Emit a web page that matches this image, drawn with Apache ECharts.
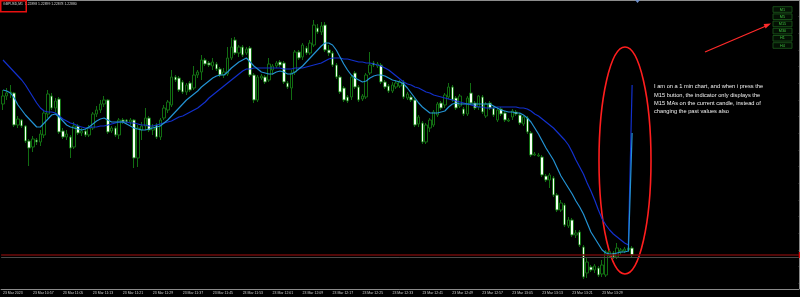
<!DOCTYPE html>
<html><head><meta charset="utf-8">
<script src="https://cdn.jsdelivr.net/npm/echarts@6/dist/echarts.min.js"></script>
<style>html,body{margin:0;padding:0;background:#000;overflow:hidden}#c{width:800px;height:297px}</style>
</head><body><div id="c"></div>
<script>
// ---- time axis ----
const startTime = '10:49';
const totalSlots = 213;
const tickTimes = ['10:49','10:57','11:05','11:13','11:21','11:29','11:37','11:45','11:53','12:01','12:09','12:17','12:25','12:33','12:41','12:49','12:57','13:05','13:13','13:21','13:29'];
const dateLabel = '23 Mar 2023';
const dayPrefix = '23 Mar ';

// ---- OHLC (GBPUSD M1) ----
const open = [
1.23031,1.23039,1.23042,1.23042,1.23010,1.23015,1.23009,1.22994,1.22988,1.22995,
1.22993,1.23000,1.23021,1.23039,1.23027,1.23036,1.23004,1.22998,1.22998,1.22988,
1.23009,1.23002,1.23004,1.23000,1.23007,1.23021,1.23025,1.23031,1.23035,1.23004,
1.23007,1.23000,1.23015,1.23015,1.23013,1.23015,1.22977,1.23005,1.23009,1.23017,
1.23005,1.23010,1.22998,1.23017,1.23025,1.23030,1.23058,1.23057,1.23053,1.23043,
1.23052,1.23047,1.23060,1.23063,1.23075,1.23072,1.23069,1.23071,1.23066,1.23060,
1.23061,1.23077,1.23095,1.23082,1.23088,1.23082,1.23087,1.23060,1.23035,1.23057,
1.23058,1.23055,1.23065,1.23069,1.23073,1.23072,1.23052,1.23047,1.23063,1.23083,
1.23078,1.23087,1.23082,1.23090,1.23107,1.23103,1.23110,1.23085,1.23082,1.23070,
1.23058,1.23047,1.23038,1.23038,1.23062,1.23048,1.23036,1.23038,1.23062,1.23072,
1.23069,1.23070,1.23053,1.23049,1.23044,1.23048,1.23049,1.23053,1.23037,1.23038,
1.23035,1.23011,1.23012,1.22993,1.23007,1.23010,1.23020,1.23032,1.23030,1.23038,
1.23048,1.23037,1.23029,1.23026,1.23021,1.23042,1.23032,1.23028,1.23038,1.23019,
1.23032,1.23027,1.23015,1.23026,1.23022,1.23014,1.23018,1.23023,1.23020,1.23011,
1.23017,1.23002,1.22980,1.22979,1.22978,1.22959,1.22955,1.22957,1.22940,1.22925,
1.22930,1.22909,1.22915,1.22900,1.22903,1.22888,1.22862,1.22868,1.22865,1.22867,
1.22861,1.22860,1.22879,1.22882,1.22878,1.22883,1.22884,1.22885,1.22887];
const close = [
1.23039,1.23042,1.23043,1.23010,1.23016,1.23009,1.22994,1.22987,1.22996,1.22993,
1.23001,1.23022,1.23041,1.23027,1.23034,1.23003,1.22998,1.23001,1.22987,1.23009,
1.23002,1.23004,1.23000,1.23007,1.23021,1.23025,1.23031,1.23035,1.23003,1.23007,
1.23000,1.23015,1.23013,1.23013,1.23015,1.22977,1.23007,1.23009,1.23017,1.23005,
1.23008,1.22998,1.23015,1.23027,1.23033,1.23058,1.23055,1.23045,1.23043,1.23050,
1.23045,1.23060,1.23063,1.23075,1.23071,1.23070,1.23073,1.23066,1.23060,1.23063,
1.23077,1.23088,1.23082,1.23088,1.23080,1.23086,1.23060,1.23035,1.23058,1.23059,
1.23053,1.23071,1.23069,1.23072,1.23070,1.23053,1.23048,1.23062,1.23083,1.23077,
1.23090,1.23082,1.23092,1.23110,1.23103,1.23109,1.23085,1.23082,1.23070,1.23058,
1.23043,1.23035,1.23034,1.23058,1.23048,1.23035,1.23039,1.23060,1.23070,1.23070,
1.23071,1.23053,1.23048,1.23044,1.23050,1.23052,1.23053,1.23038,1.23041,1.23035,
1.23010,1.23018,1.22993,1.23010,1.23015,1.23023,1.23031,1.23027,1.23040,1.23048,
1.23035,1.23027,1.23039,1.23021,1.23037,1.23032,1.23027,1.23039,1.23023,1.23031,
1.23027,1.23020,1.23025,1.23021,1.23015,1.23015,1.23024,1.23021,1.23012,1.23018,
1.23003,1.22980,1.22981,1.22980,1.22960,1.22955,1.22960,1.22940,1.22925,1.22932,
1.22910,1.22915,1.22900,1.22902,1.22890,1.22858,1.22873,1.22865,1.22869,1.22860,
1.22870,1.22883,1.22883,1.22878,1.22887,1.22885,1.22886,1.22887,1.22880];
const low = [
1.23025,1.23035,1.23037,1.23008,1.23007,1.23007,1.22992,1.22969,1.22983,1.22990,
1.22989,1.22997,1.23017,1.23025,1.23023,1.23001,1.22996,1.22995,1.22977,1.22986,
1.23000,1.22999,1.22998,1.22998,1.23005,1.23018,1.23022,1.23028,1.23001,1.23002,
1.22998,1.22996,1.23011,1.23011,1.23010,1.22967,1.22968,1.22995,1.23005,1.23003,
1.23000,1.22996,1.22995,1.23015,1.23022,1.23028,1.23053,1.23043,1.23041,1.23040,
1.23043,1.23045,1.23057,1.23055,1.23069,1.23068,1.23065,1.23064,1.23058,1.23057,
1.23059,1.23075,1.23080,1.23078,1.23078,1.23080,1.23058,1.23032,1.23033,1.23055,
1.23051,1.23053,1.23060,1.23067,1.23068,1.23051,1.23046,1.23035,1.23060,1.23075,
1.23075,1.23080,1.23080,1.23088,1.23101,1.23100,1.23083,1.23079,1.23068,1.23056,
1.23041,1.23033,1.23032,1.23035,1.23046,1.23033,1.23034,1.23036,1.23060,1.23068,
1.23067,1.23051,1.23046,1.23042,1.23042,1.23046,1.23047,1.23036,1.23035,1.23033,
1.23008,1.23008,1.22991,1.22991,1.23003,1.23008,1.23018,1.23025,1.23027,1.23036,
1.23033,1.23025,1.23027,1.23019,1.23019,1.23030,1.23025,1.23025,1.23021,1.23017,
1.23025,1.23018,1.23013,1.23019,1.23013,1.23013,1.23015,1.23019,1.23010,1.23009,
1.23001,1.22978,1.22979,1.22978,1.22958,1.22953,1.22947,1.22938,1.22923,1.22923,
1.22908,1.22907,1.22898,1.22897,1.22888,1.22856,1.22857,1.22863,1.22862,1.22858,
1.22858,1.22858,1.22877,1.22876,1.22876,1.22880,1.22882,1.22883,1.22877];
const high = [
1.23045,1.23047,1.23050,1.23043,1.23019,1.23016,1.23010,1.22996,1.22999,1.22997,
1.23005,1.23025,1.23045,1.23042,1.23037,1.23038,1.23007,1.23005,1.23000,1.23013,
1.23011,1.23007,1.23006,1.23010,1.23023,1.23029,1.23035,1.23039,1.23036,1.23009,
1.23009,1.23017,1.23017,1.23016,1.23017,1.23016,1.23010,1.23013,1.23027,1.23019,
1.23011,1.23012,1.23017,1.23030,1.23035,1.23065,1.23060,1.23059,1.23055,1.23052,
1.23054,1.23069,1.23065,1.23080,1.23077,1.23074,1.23077,1.23073,1.23068,1.23067,
1.23088,1.23097,1.23098,1.23090,1.23090,1.23088,1.23089,1.23062,1.23060,1.23061,
1.23060,1.23077,1.23071,1.23074,1.23075,1.23074,1.23054,1.23065,1.23085,1.23085,
1.23092,1.23089,1.23095,1.23115,1.23111,1.23113,1.23113,1.23090,1.23084,1.23072,
1.23060,1.23049,1.23040,1.23060,1.23064,1.23050,1.23041,1.23062,1.23083,1.23074,
1.23073,1.23072,1.23055,1.23051,1.23053,1.23055,1.23055,1.23055,1.23043,1.23040,
1.23037,1.23020,1.23014,1.23012,1.23017,1.23025,1.23033,1.23034,1.23042,1.23052,
1.23050,1.23039,1.23041,1.23028,1.23039,1.23052,1.23034,1.23040,1.23040,1.23033,
1.23034,1.23029,1.23027,1.23028,1.23024,1.23017,1.23026,1.23025,1.23022,1.23019,
1.23019,1.23004,1.22983,1.22982,1.22980,1.22961,1.22962,1.22959,1.22942,1.22935,
1.22932,1.22918,1.22917,1.22905,1.22905,1.22890,1.22877,1.22870,1.22871,1.22869,
1.22875,1.22885,1.22885,1.22884,1.22892,1.22887,1.22888,1.22889,1.22889];

// ---- moving averages ----
const maSlow = [
1.23075,1.23071,1.23067,1.23063,1.23059,1.23055,1.23050,1.23044,1.23038,1.23032,
1.23027,1.23024,1.23023,1.23023,1.23022,1.23019,1.23016,1.23014,1.23012,1.23011,
1.23009,1.23008,1.23007,1.23007,1.23008,1.23008,1.23009,1.23009,1.23010,1.23011,
1.23012,1.23013,1.23013,1.23013,1.23012,1.23012,1.23011,1.23010,1.23010,1.23009,
1.23009,1.23010,1.23011,1.23012,1.23013,1.23014,1.23016,1.23018,1.23019,1.23021,
1.23023,1.23025,1.23027,1.23030,1.23033,1.23037,1.23040,1.23043,1.23046,1.23049,
1.23052,1.23055,1.23058,1.23061,1.23064,1.23066,1.23066,1.23067,1.23067,1.23067,
1.23067,1.23067,1.23067,1.23067,1.23067,1.23066,1.23066,1.23066,1.23067,1.23067,
1.23067,1.23068,1.23069,1.23070,1.23071,1.23072,1.23074,1.23076,1.23077,1.23077,
1.23077,1.23076,1.23076,1.23075,1.23074,1.23073,1.23073,1.23072,1.23072,1.23071,
1.23070,1.23069,1.23067,1.23065,1.23062,1.23059,1.23056,1.23053,1.23051,1.23050,
1.23048,1.23047,1.23045,1.23043,1.23042,1.23040,1.23039,1.23038,1.23037,1.23036,
1.23035,1.23034,1.23033,1.23032,1.23031,1.23030,1.23029,1.23028,1.23028,1.23027,
1.23027,1.23027,1.23028,1.23028,1.23028,1.23028,1.23028,1.23028,1.23027,1.23027,
1.23026,1.23024,1.23021,1.23019,1.23016,1.23013,1.23010,1.23007,1.23003,1.22999,
1.22995,1.22990,1.22983,1.22975,1.22968,1.22961,1.22952,1.22944,1.22935,1.22925,
1.22916,1.22910,1.22905,1.22901,1.22898,1.22895,1.22892,1.22890,1.23050];
const maFast = [
1.23045,1.23044,1.23042,1.23037,1.23030,1.23025,1.23020,1.23016,1.23012,1.23008,
1.23008,1.23012,1.23016,1.23020,1.23021,1.23018,1.23014,1.23010,1.23008,1.23007,
1.23006,1.23005,1.23006,1.23008,1.23011,1.23014,1.23016,1.23017,1.23015,1.23013,
1.23013,1.23013,1.23013,1.23011,1.23009,1.23007,1.23006,1.23005,1.23005,1.23006,
1.23007,1.23008,1.23009,1.23012,1.23015,1.23019,1.23023,1.23027,1.23031,1.23035,
1.23038,1.23041,1.23044,1.23048,1.23051,1.23054,1.23057,1.23059,1.23060,1.23060,
1.23063,1.23067,1.23070,1.23073,1.23075,1.23077,1.23073,1.23069,1.23066,1.23063,
1.23062,1.23061,1.23061,1.23063,1.23064,1.23063,1.23061,1.23061,1.23063,1.23066,
1.23069,1.23073,1.23077,1.23081,1.23085,1.23089,1.23092,1.23092,1.23090,1.23085,
1.23078,1.23071,1.23065,1.23060,1.23057,1.23055,1.23053,1.23054,1.23057,1.23059,
1.23060,1.23060,1.23059,1.23057,1.23055,1.23054,1.23053,1.23051,1.23047,1.23042,
1.23037,1.23032,1.23028,1.23025,1.23022,1.23022,1.23022,1.23023,1.23024,1.23028,
1.23031,1.23032,1.23031,1.23031,1.23031,1.23031,1.23031,1.23031,1.23031,1.23031,
1.23031,1.23029,1.23027,1.23025,1.23024,1.23023,1.23023,1.23022,1.23022,1.23020,
1.23017,1.23013,1.23007,1.23001,1.22994,1.22987,1.22981,1.22975,1.22967,1.22959,
1.22953,1.22947,1.22941,1.22934,1.22928,1.22921,1.22912,1.22903,1.22897,1.22891,
1.22885,1.22882,1.22881,1.22881,1.22882,1.22883,1.22883,1.22884,1.23002];

// ---- price levels / scale ----
const bidPrice = 1.22880;
const askPrice = 1.22878;
const priceMin = 1.22846;
const priceMax = 1.23135;
const priceTicks = [1.22852,1.22869,1.22885,1.22902,1.22919,1.22935,1.22952,1.22969,1.22985,1.23002,1.23019,1.23035,1.23052,1.23069,1.23085,1.23102,1.23119];

// ---- texts ----
const headerText = 'GBPUSD,M1  1.22898 1.22899 1.22878 1.22880';
const buttons = ['M1','M5','M15','M30','H1','H4'];
const noteLines = [
  'I am on a 1 min chart, and when i press the',
  'M15 button, the indicator only displays the',
  'M15 MAs on the current candle, instead of',
  'changing the past values also'
];

const categories = [];
(function(){
  const p = startTime.split(':').map(Number);
  for (let k = 0; k < totalSlots; k++) {
    const t = p[0]*60 + p[1] + k;
    categories.push(String(Math.floor(t/60)).padStart(2,'0') + ':' + String(t%60).padStart(2,'0'));
  }
})();
const candleData = open.map((o,i)=>[o, close[i], low[i], high[i]]);

const chart = echarts.init(document.getElementById('c'), null, {renderer:'canvas'});

const graphics = [
  {type:'line', shape:{x1:0,y1:0.5,x2:800,y2:0.5}, style:{stroke:'#8c8c8c', lineWidth:1}, silent:true},
  {type:'polygon', shape:{points:[[635,0],[640,0],[637.5,3]]}, style:{fill:'#6f8fc8'}, silent:true},
  {type:'text', left:3, top:2.2, style:{text:headerText, fill:'#d8d8d8', fontSize:3.4, fontFamily:'Liberation Sans'}, silent:true},
  {type:'rect', shape:{x:0.75,y:0.75,width:25.5,height:11}, style:{fill:'none', stroke:'#e81010', lineWidth:1.5}, silent:true},
  {type:'ellipse', shape:{cx:625, cy:160.5, rx:26, ry:113.5}, style:{fill:'none', stroke:'#ff1e1e', lineWidth:1.6}, silent:true},
  {type:'line', shape:{x1:705,y1:52,x2:766,y2:26}, style:{stroke:'#ff2a2a', lineWidth:1.3}, silent:true},
  {type:'polygon', shape:{points:[[771,23.5],[765.6,28.6],[763.6,24.0]]}, style:{fill:'#ff2a2a'}, silent:true},
  {type:'text', left:654, top:82.5, style:{text:noteLines.join('\n'), fill:'#f0f0f0', fontSize:5.7, lineHeight:8.4, fontFamily:'Liberation Sans'}, silent:true}
];
buttons.forEach((b,k)=>{
  const y = 6.7 + k*7.2;
  graphics.push({type:'rect', shape:{x:773,y:y,width:19,height:5.6}, style:{fill:'#041004', stroke:'#1d5e1d', lineWidth:0.8}, silent:true});
  graphics.push({type:'text', style:{text:b, x:782.5, y:y+2.9, fill:'#3fc03f', fontSize:3.8, fontFamily:'Liberation Sans', align:'center', verticalAlign:'middle'}, silent:true});
});

chart.setOption({
  backgroundColor:'#000000',
  animation:false,
  grid:{left:0, right:1.25, top:0, bottom:8, containLabel:false},
  xAxis:{
    type:'category', data:categories, boundaryGap:true,
    axisLine:{show:true, lineStyle:{color:'#8a8a8a', width:1}},
    axisTick:{show:false},
    axisLabel:{
      interval:(idx, val)=>tickTimes.includes(val),
      formatter:(val)=> val===tickTimes[0] ? dateLabel : dayPrefix + val,
      fontSize:3.5, color:'#d0d0d0', align:'left', margin:2, fontFamily:'Liberation Sans'
    },
    splitLine:{show:false}
  },
  yAxis:{
    type:'value', position:'right', min:priceMin, max:priceMax, scale:true,
    axisLine:{show:true, lineStyle:{color:'#8a8a8a', width:1}},
    axisTick:{show:true, length:2, customValues:priceTicks, lineStyle:{color:'#8a8a8a'}},
    axisLabel:{show:false},
    splitLine:{show:false}
  },
  series:[
    {
      type:'candlestick', data:candleData, barWidth:3, z:2,
      itemStyle:{color:'#000000', color0:'#f4fff4', borderColor:'#126e12', borderColor0:'#126e12', borderWidth:1}
    },
    {
      type:'line', data:maSlow, symbol:'none', lineStyle:{color:'#1230cc', width:1.2}, z:3,
      markLine:{
        silent:true, symbol:['none','none'], animation:false, precision:5,
        data:[
          {yAxis:bidPrice, lineStyle:{color:'#6e0a0a', width:1.6, type:'solid'},
           label:{show:true, position:'end', distance:0, formatter:'1.22880', backgroundColor:'#e01010', color:'#ffffff', fontSize:4, padding:[1,2]}},
          {yAxis:askPrice, lineStyle:{color:'#4a4a4a', width:1, type:'solid'}, label:{show:false}}
        ]
      }
    },
    {type:'line', data:maFast, symbol:'none', lineStyle:{color:'#2392d2', width:1.2}, z:4}
  ],
  graphic:graphics
});
</script></body></html>
